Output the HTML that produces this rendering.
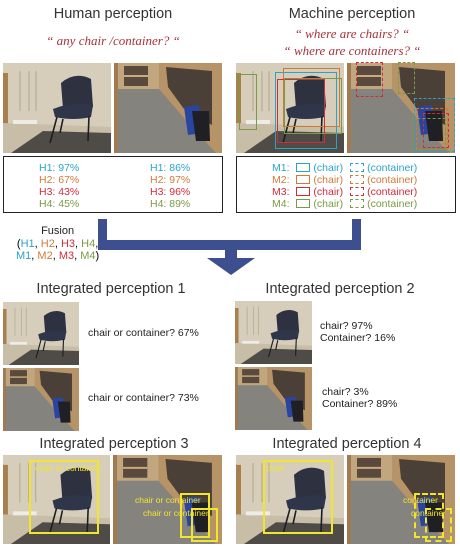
<!DOCTYPE html>
<html><head><meta charset="utf-8">
<style>
body{margin:0;width:460px;height:552px;background:#fff;position:relative;overflow:hidden;font-family:"Liberation Sans",sans-serif;}
.a{position:absolute;}
.t{position:absolute;white-space:nowrap;}
.title{font-size:14.5px;color:#333;transform:translateX(-50%);}
.q{font-family:"Liberation Serif",serif;font-style:italic;font-size:13px;color:#a8323a;transform:translateX(-50%);}
.box{position:absolute;border:1.3px solid #222;box-sizing:border-box;}
.lg{font-size:10.5px;line-height:12px;}
.c1{color:#2aa3c9}.c2{color:#d07a3a}.c3{color:#d02c3c}.c4{color:#7c9a45}
.ic{display:inline-block;width:12px;height:7px;border:1.2px solid currentColor;vertical-align:-1px;margin:0 3px 0 4px;}
.ic.d{border-style:dashed;}
.yb{position:absolute;border:2px solid #f2e62c;box-sizing:border-box;}
.yb.d{border-style:dashed;}
.yl{position:absolute;font-size:8.5px;color:#f2e62c;white-space:nowrap;}
.ip{font-size:10.5px;color:#222;}
.ar{position:absolute;background:#3d4f8f;}
</style></head>
<body>
<div class="t title" style="left:113px;top:6px">Human perception</div>
<div class="t title" style="left:352px;top:6px">Machine perception</div>
<div class="t q" style="left:113px;top:33px">“ any chair /container?  “</div>
<div class="t q" style="left:352px;top:26px">“ where are chairs?  “</div>
<div class="t q" style="left:352px;top:43px">“ where are containers?  “</div>

<div id="photos"></div>

<div class="a" style="left:236px;top:63px;width:219px;height:90px">
<div class="a" style="left:39px;top:9px;width:60px;height:75px;border:1.3px solid #2aa3c9"></div>
<div class="a" style="left:47px;top:5px;width:55px;height:57px;border:1.3px solid #d07a3a"></div>
<div class="a" style="left:41px;top:16px;width:46px;height:62px;border:1.3px solid #d02c3c"></div>
<div class="a" style="left:48px;top:15px;width:56px;height:54px;border:1.3px solid #7c9a45"></div>
<div class="a" style="left:3px;top:11px;width:16px;height:54px;border:1.3px solid #7c9a45"></div>
<div class="a" style="left:120px;top:-1px;width:25px;height:33px;border:1.3px dashed #d02c3c"></div>
<div class="a" style="left:162px;top:-1px;width:15px;height:30px;border:1.3px dashed #7c9a45"></div>
<div class="a" style="left:178px;top:35px;width:39px;height:52px;border:1.3px dashed #2aa3c9"></div>
<div class="a" style="left:180px;top:45px;width:30px;height:40px;border:1.3px dashed #d07a3a"></div>
<div class="a" style="left:187px;top:50px;width:24px;height:33px;border:1.3px dashed #d02c3c"></div>
<div class="a" style="left:176px;top:55px;width:32px;height:30px;border:1.3px dashed #7c9a45"></div>
</div>

<div class="box" style="left:3px;top:156px;width:220px;height:57px"></div>
<div class="t lg" style="left:39px;top:162px">
<div class="c1">H1: 97%</div><div class="c2">H2: 67%</div><div class="c3">H3: 43%</div><div class="c4">H4: 45%</div></div>
<div class="t lg" style="left:150px;top:162px">
<div class="c1">H1: 86%</div><div class="c2">H2: 97%</div><div class="c3">H3: 96%</div><div class="c4">H4: 89%</div></div>

<div class="box" style="left:236px;top:156px;width:220px;height:57px"></div>
<div class="t lg" style="left:272px;top:162px">
<div class="c1">M1: <span class="ic"></span>(chair) <span class="ic d"></span>(container)</div>
<div class="c2">M2: <span class="ic"></span>(chair) <span class="ic d"></span>(container)</div>
<div class="c3">M3: <span class="ic"></span>(chair) <span class="ic d"></span>(container)</div>
<div class="c4">M4: <span class="ic"></span>(chair) <span class="ic d"></span>(container)</div>
</div>

<div>
<div class="ar" style="left:98px;top:219px;width:9px;height:31px"></div>
<div class="ar" style="left:352px;top:219px;width:9px;height:31px"></div>
<div class="ar" style="left:98px;top:240px;width:263px;height:10px"></div>
<div class="ar" style="left:225px;top:249px;width:12px;height:10px"></div>
<div class="a" style="left:207px;top:258px;width:0;height:0;border-left:24px solid transparent;border-right:24px solid transparent;border-top:17px solid #3d4f8f;"></div>
</div>
<div class="t" style="left:16px;top:225px;font-size:11px;line-height:12.5px;text-align:center">
<div style="color:#222">Fusion</div>
<div>(<span class="c1">H1</span>, <span class="c2">H2</span>, <span class="c3">H3</span>, <span class="c4">H4</span>,</div>
<div><span class="c1">M1</span>, <span class="c2">M2</span>, <span class="c3">M3</span>, <span class="c4">M4</span>)</div>
</div>

<div class="t title" style="left:111px;top:281px">Integrated perception 1</div>
<div class="t title" style="left:340px;top:281px">Integrated perception 2</div>
<div class="t ip" style="left:88px;top:327px">chair or container? 67%</div>
<div class="t ip" style="left:88px;top:392px">chair or container? 73%</div>
<div class="t ip" style="left:320px;top:320px;line-height:12px">chair? 97%<br>Container? 16%</div>
<div class="t ip" style="left:322px;top:386px;line-height:12px">chair? 3%<br>Container? 89%</div>

<div class="t title" style="left:114px;top:436px">Integrated perception 3</div>
<div class="t title" style="left:347px;top:436px">Integrated perception 4</div>

<div id="overlays">
<div class="yb" style="left:29px;top:460px;width:70px;height:74px"></div>
<div class="yl" style="left:35px;top:463px">chair or container</div>
<div class="yb" style="left:180px;top:493px;width:30px;height:45px"></div>
<div class="yb" style="left:191px;top:508px;width:27px;height:34px"></div>
<div class="yl" style="left:135px;top:495px">chair or container</div>
<div class="yl" style="left:143px;top:508px">chair or container</div>
<div class="yb" style="left:263px;top:460px;width:70px;height:74px"></div>
<div class="yl" style="left:266px;top:463px">chair</div>
<div class="yb d" style="left:414px;top:493px;width:30px;height:45px"></div>
<div class="yb d" style="left:425px;top:508px;width:27px;height:34px"></div>
<div class="yl" style="left:403px;top:495px">container</div>
<div class="yl" style="left:411px;top:508px">container</div>
</div>

<script>
var NS="http://www.w3.org/2000/svg";
var chairSvg='<rect width="108" height="90" fill="#d6cdbb"/><rect x="0" y="10" width="5" height="52" fill="#a8804e"/><g stroke="#9a9070" stroke-width="1" opacity="0.6"><path d="M17 8 L17 48 M26 8 L26 48 M33 8 L33 48"/></g><polygon points="0,60 55,62 108,64 108,90 0,90" fill="#c8bea8"/><polygon points="8,90 40,68 108,70 108,90" fill="#4f4c47"/><rect x="10" y="57" width="24" height="4" fill="#eeece6"/><path d="M58 20 Q72 8 88 16 L90 44 L60 46 Z" fill="#2d3140"/><path d="M50 46 Q70 38 90 42 L88 54 Q70 58 52 54 Z" fill="#30364a"/><path d="M54 54 L47 80 M86 53 L85 78 M60 56 L57 70" stroke="#1c1e24" stroke-width="1.6"/>';
var roomSvg='<rect width="108" height="90" fill="#85837e"/><rect x="0" y="0" width="108" height="26" fill="#c1a67e"/><rect x="10" y="3" width="24" height="20" fill="#5a4a3e"/><rect x="10" y="12" width="24" height="2" fill="#c9ab7e"/><polygon points="45,0 108,0 108,90 102,90 70,55 45,26" fill="#b69468"/><polygon points="52,4 98,8 98,62 70,46 54,24" fill="#4a4038"/><rect x="0" y="0" width="4" height="90" fill="#a07a50"/><polygon points="70,44 85,42 88,70 74,72" fill="#2a45a0"/><polygon points="78,48 95,48 96,78 82,78" fill="#1f1f24"/>';
var photos=[[3,63,108,90,chairSvg],[114,63,108,90,roomSvg],[236,63,108,90,chairSvg],[347,63,108,90,roomSvg],
[3,302,76,63,chairSvg],[3,368,76,63,roomSvg],[235,301,77,63,chairSvg],[235,367,77,63,roomSvg],
[3,455,107,89,chairSvg],[113,455,109,89,roomSvg],[236,455,108,89,chairSvg],[347,455,108,89,roomSvg]];
var names=['human-chair-photo','human-room-photo','machine-chair-photo','machine-room-photo','ip1-chair-photo','ip1-room-photo','ip2-chair-photo','ip2-room-photo','ip3-chair-photo','ip3-room-photo','ip4-chair-photo','ip4-room-photo'];
var host=document.getElementById('photos');
photos.forEach(function(p,i){
  var s=document.createElementNS(NS,'svg');
  s.setAttribute('viewBox','0 0 108 90');
  s.setAttribute('preserveAspectRatio','none');
  s.setAttribute('style','position:absolute;left:'+p[0]+'px;top:'+p[1]+'px;width:'+p[2]+'px;height:'+p[3]+'px');
  s.innerHTML=p[4];
  
  
  host.appendChild(s);
});
</script>
</body></html>
